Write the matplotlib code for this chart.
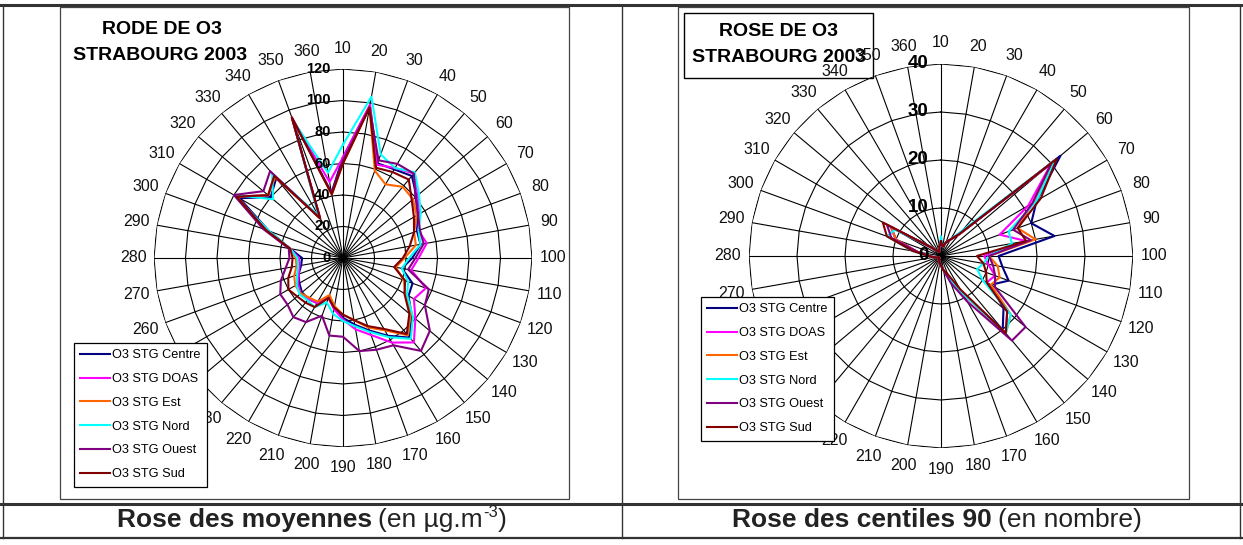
import numpy as np
import matplotlib
matplotlib.use("Agg")
import matplotlib.pyplot as plt
from matplotlib.patches import Rectangle
from matplotlib.lines import Line2D

plt.rcParams['font.family'] = ['Liberation Sans', 'DejaVu Sans']

# ---------------- data ----------------
directions = list(range(10, 361, 10))
series_names = ['O3 STG Centre', 'O3 STG DOAS', 'O3 STG Est',
                'O3 STG Nord', 'O3 STG Ouest', 'O3 STG Sud']
series_colors = ['#000080', '#FF00FF', '#FF6600', '#00FFFF', '#800080', '#800000']

# Rose des moyennes (ug/m3), directions 10..360
mean_centre = [64, 98, 64, 65, 68, 61, 55, 50, 50, 44, 38, 47, 48, 57, 66, 57, 49, 43,
               38, 32, 26, 33, 34, 34, 32, 30, 27, 26, 34, 50, 76, 60, 66, 30, 94, 42]
mean_doas = [64, 99, 63, 66, 70, 62, 56, 51, 54, 48, 44, 56, 52, 60, 70, 62, 52, 46,
             39, 33, 27, 33, 34, 35, 33, 30, 28, 28, 34, 52, 78, 62, 68, 30, 94, 49]
mean_est = [60, 97, 59, 54, 59, 58, 54, 48, 47, 39, 34, 41, 46, 56, 64, 53, 47, 40,
            36, 31, 25, 32, 33, 35, 35, 33, 30, 30, 34, 52, 78, 62, 67, 29, 95, 41]
mean_nord = [72, 104, 70, 66, 71, 63, 57, 51, 50, 42, 38, 44, 47, 58, 67, 58, 50, 44,
             40, 36, 30, 36, 35, 36, 34, 31, 29, 29, 34, 50, 80, 58, 70, 31, 93, 55]
mean_ouest = [62, 97, 66, 69, 70, 60, 55, 52, 52, 46, 42, 58, 60, 72, 77, 64, 62, 60,
              50, 50, 39, 47, 49, 46, 46, 42, 37, 34, 35, 54, 80, 66, 72, 29, 95, 42]
mean_sud = [60, 97, 61, 63, 65, 57, 52, 48, 43, 38, 33, 42, 45, 55, 63, 52, 46, 40,
            36, 32, 27, 36, 37, 38, 40, 37, 33, 32, 34, 52, 78, 62, 68, 29, 95, 41]

# Rose des centiles 90 (en nombre), directions 10..360
c90_centre = [3, 2, 3, 4, 6, 32.5, 23, 20, 24, 12, 13, 15, 12, 17, 20, 9, 5, 3,
              2, 1.5, 1, 1, 0.5, 0.5, 0.5, 1, 1.5, 2.5, 5, 10, 12, 3, 1.5, 1, 1, 2]
c90_doas = [3, 2, 3, 4, 6, 30, 21, 13, 18, 9, 10, 12, 11, 18, 21, 9, 5, 3,
            2, 1.5, 1, 1, 0.5, 0.5, 0.5, 1, 1.5, 2.5, 5, 10, 12, 3, 1.5, 1, 1, 2]
c90_est = [3, 2, 3, 4, 6, 31, 22, 17, 20, 10, 12, 13, 12, 19, 21, 9, 5, 3,
           2, 1.5, 1, 1, 0.5, 0.5, 0.5, 1, 1.5, 2.5, 5, 10, 12, 3, 1.5, 1, 1, 2]
c90_nord = [4, 2, 3, 4, 7, 31, 23, 15, 15, 10, 9, 8, 10, 19, 21, 9, 5, 3,
            2, 1.5, 1, 1, 0.5, 0.5, 0.5, 1, 1.5, 2.5, 6, 12, 11, 3, 1.5, 1, 1, 2]
c90_ouest = [3, 2, 3, 4, 6, 30, 22, 16, 19, 10, 11, 12, 13, 23, 23, 11, 6, 3,
             2, 1.5, 1, 1, 0.5, 0.5, 0.5, 1, 1.5, 2.5, 5, 11, 13, 3, 1.5, 1, 1, 2]
c90_sud = [3, 2, 3, 4, 6, 31.5, 24, 17, 18, 7.5, 9, 10, 11, 18, 21, 8, 4, 3,
           2, 1.5, 1, 1, 0.5, 0.5, 0.5, 1, 1.5, 2.5, 6, 12, 14, 3, 1.5, 1, 1, 2]

mean_series = [mean_centre, mean_doas, mean_est, mean_nord, mean_ouest, mean_sud]
c90_series = [c90_centre, c90_doas, c90_est, c90_nord, c90_ouest, c90_sud]

# ---------------- figure ----------------
W, H = 1243, 545
fig = plt.figure(figsize=(W / 100, H / 100), dpi=100)
fig.patch.set_facecolor('white')

bg = fig.add_axes([0, 0, 1, 1])
bg.set_xlim(0, W)
bg.set_ylim(H, 0)
bg.axis('off')

tcol = '#333333'
# table frame
bg.add_line(Line2D([0, W], [5, 5], color=tcol, lw=2.2))
bg.add_line(Line2D([0, W], [504, 504], color=tcol, lw=2.2))
bg.add_line(Line2D([0, W], [538, 538], color=tcol, lw=1.6))
bg.add_line(Line2D([3, 3], [5, 538], color=tcol, lw=1.0))
bg.add_line(Line2D([622, 622], [5, 538], color=tcol, lw=1.0))
bg.add_line(Line2D([1240, 1240], [5, 538], color=tcol, lw=1.0))

# chart boxes
bg.add_patch(Rectangle((60, 7), 509, 492, fill=False, ec='#444444', lw=0.9))
bg.add_patch(Rectangle((678, 7), 511, 492, fill=False, ec='#444444', lw=0.9))

# titles
bg.text(162, 30, 'RODE DE O3', ha='center', va='center', fontsize=14, fontweight='bold')
bg.text(160, 56, 'STRABOURG 2003', ha='center', va='center', fontsize=14, fontweight='bold')
bg.add_patch(Rectangle((684, 13), 189, 65, fill=False, ec='black', lw=1.0))
bg.text(779, 32, 'ROSE DE O3', ha='center', va='center', fontsize=14, fontweight='bold')
bg.text(779, 57, 'STRABOURG 2003', ha='center', va='center', fontsize=14, fontweight='bold')

# captions (bold part + normal part + optional superscript)
renderer = fig.canvas.get_renderer()


def caption(xc, ybase, parts, gap=6):
    arts, widths = [], []
    for s, wgt, fs, dy, g in parts:
        t = bg.text(0, ybase + dy, s, fontsize=fs, fontweight=wgt, ha='left',
                    va='baseline', color='#222222')
        widths.append(t.get_window_extent(renderer=renderer).width + g)
        arts.append(t)
    x = xc - sum(widths) / 2.0
    for t, w in zip(arts, widths):
        t.set_x(x)
        x += w


caption(312, 527, [('Rose des moyennes', 'bold', 19, 0, 6), ('(en µg.m', 'normal', 19, 0, 0),
                   ('-3', 'normal', 12, -10, 0), (')', 'normal', 19, 0, 0)])
caption(937, 527, [('Rose des centiles 90', 'bold', 19, 0, 6), ('(en nombre)', 'normal', 19, 0, 0)])


def rose(cx, cy, R, rmax, rstep, series, lab_fs, rlab_fs, legend_xy, lspace):
    ax = fig.add_axes([(cx - R) / W, (H - cy - R) / H, 2 * R / W, 2 * R / H],
                      projection='polar')
    ax.set_theta_zero_location('N')
    ax.set_theta_direction(-1)
    ax.set_ylim(0, rmax)
    ax.grid(False)
    ax.spines['polar'].set_visible(False)
    ax.set_xticks([])
    ax.set_yticks([])
    ax.patch.set_alpha(0)
    theta = np.deg2rad(np.array(directions) - 10.0)
    closed = np.append(theta, theta[0])
    for r in np.arange(rstep, rmax + 1e-9, rstep):
        ax.plot(closed, np.full(closed.size, r), color='black', lw=0.8, zorder=1)
    for t in theta:
        ax.plot([t, t], [0, rmax], color='black', lw=0.8, zorder=1)
    handles = []
    for vals, col, name in zip(series, series_colors, series_names):
        v = np.append(np.asarray(vals, float), vals[0])
        h, = ax.plot(closed, v, color=col, lw=1.5, zorder=3, label=name)
        handles.append(h)
    for d, t in zip(directions, theta):
        ax.text(t, rmax * 1.11, str(d), ha='center', va='center', fontsize=lab_fs,
                color='#111111')
    for r in np.arange(0, rmax + 1e-9, rstep):
        ax.annotate(f'{r:g}', xy=(0, r), xytext=(-9, 0), textcoords='offset points',
                    ha='right', va='center', fontsize=rlab_fs, fontweight='bold', zorder=4)
    leg = fig.legend(handles=handles, loc='upper left',
                     bbox_to_anchor=(legend_xy[0] / W, 1 - legend_xy[1] / H),
                     bbox_transform=fig.transFigure, fontsize=9.2, frameon=True,
                     fancybox=False, edgecolor='black', framealpha=1,
                     handlelength=2.3, handletextpad=0.15, labelspacing=lspace,
                     borderaxespad=0, borderpad=0.5)
    leg.get_frame().set_linewidth(0.9)
    return ax


rose(343, 258, 189, 120, 20, mean_series, 11.5, 10.5, (74, 343), 0.92)
rose(941, 256, 192, 40, 10, c90_series, 11.5, 13.5, (701, 297), 0.92)

fig.savefig('out.png', dpi=100, facecolor='white')
